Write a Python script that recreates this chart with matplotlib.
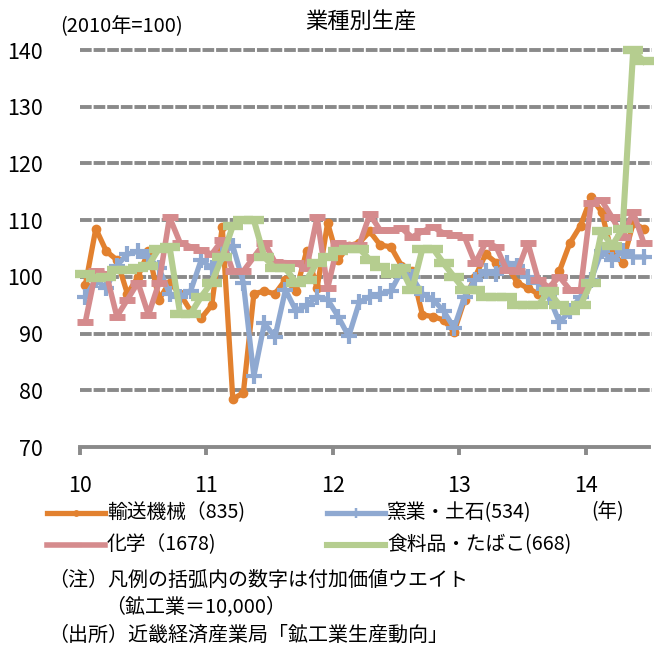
import numpy as np
import matplotlib.pyplot as plt
from matplotlib.lines import Line2D

plt.rcParams['font.family'] = ['Noto Sans CJK JP', 'DejaVu Sans']

# monthly index, 2010-01 .. 2014-06 (2010 = 100)
TRANSPORT = [98.5, 108.5, 104.5, 103, 97, 100, 104.5, 96, 99, 97, 94, 92.7,
             95, 108.8, 78.5, 79.5, 97, 97.5, 97, 99.5, 97.5, 104.5, 98, 109.5,
             103, 105.5, 106, 108, 105.6, 105.3, 102, 101, 93.3, 93, 92.4, 90.3,
             96, 100, 104, 102.5, 102, 99, 98, 97, 97, 101, 106, 109,
             114, 111.5, 104, 102.5, 109.5, 108.5]
CERAMICS = [96.5, 99.5, 98, 102, 104, 104.5, 103.5, 101.5, 97, 96.5, 97.5, 103,
            101.5, 104, 105.5, 99, 82.5, 91.8, 89.4, 97.7, 94, 95, 96.5, 96,
            93, 89.5, 95.5, 96.5, 97, 97.5, 101, 100, 97, 96, 94, 91,
            96.5, 99.5, 101, 100.5, 102.5, 102, 100, 99, 96.5, 92, 94, 96.5,
            99.5, 104.5, 103, 104.5, 103.5, 103.5]
CHEMICAL = [92, 101, 100.5, 93, 96, 99, 93.3, 99, 110.5, 106, 105.3, 104.7,
            104, 106.5, 101, 101, 103.5, 106, 102.6, 102.5, 102.4, 101.5, 110.5, 98,
            106, 105.6, 105.6, 111, 108.2, 108.2, 108.6, 107, 108, 108.8, 107.7, 107.4,
            107, 102.4, 106, 105.3, 101.2, 101, 106, 99.4, 98.2, 100, 97.7, 97.7,
            113, 113.5, 110.5, 107, 111.4, 106]
FOOD = [100.5, 99.8, 100, 101.2, 101.2, 101.5, 102, 105, 105.3, 93.5, 93.5, 96.5,
        99, 103.5, 109, 110, 110, 103.5, 101.5, 101.5, 99, 99.5, 102.5, 103.5,
        104.5, 105, 105, 103, 101.8, 100.5, 101.5, 97.6, 105, 105, 102.4, 100,
        97.6, 97.6, 96.5, 96.5, 96.5, 95, 95, 95, 97.5, 95, 94, 95,
        99, 108, 105.5, 108.5, 140, 138]

LABELS = ['輸送機械（835)', '窯業・土石(534)', '化学（1678)', '食料品・たばこ(668)']
YEAR_LABELS = ['10', '11', '12', '13', '14']
Y_TICKS = [70, 80, 90, 100, 110, 120, 130, 140]

ORANGE = '#E2812F'
BLUE = '#8FA9D1'
PINK = '#D58B8D'
GREEN = '#B5CD8F'
GRID = '#8A8A8A'

# (values, color, marker, markersize, markeredgewidth, linewidth)
styles = [
    (TRANSPORT, ORANGE, 'o', 6, 1, 3.8),
    (CERAMICS, BLUE, '+', 11, 3, 3.8),
    (CHEMICAL, PINK, '_', 12, 5, 4.0),
    (FOOD, GREEN, '_', 15, 6, 4.4),
]

fig = plt.figure(figsize=(6.61, 6.46), dpi=100)
ax = fig.add_axes([80 / 661, 1 - 447 / 646, 569 / 661, 397 / 646])

x = np.arange(len(TRANSPORT))
for k, (vals, col, mk, ms, mew, lw) in enumerate(styles):
    ax.plot(x, vals, color=col, lw=lw, marker=mk, ms=ms, mew=mew,
            mfc=col, mec=col, solid_joinstyle='round', zorder=3 + k,
            clip_on=False)

ax.set_xlim(-0.5, len(TRANSPORT) - 0.5)
ax.set_ylim(70, 140)
ax.set_yticks(Y_TICKS)
ax.set_yticklabels([str(v) for v in Y_TICKS], fontsize=15.5)
ax.set_xticks(np.arange(len(YEAR_LABELS)) * 12 - 0.5)
ax.set_xticklabels(YEAR_LABELS, fontsize=15.5)

for v in Y_TICKS[1:]:
    ax.plot([-0.5, len(TRANSPORT) - 0.2], [v, v], color=GRID, lw=2.8,
            ls=(0, (3, 0.5)), zorder=1, clip_on=False)

for side in ['left', 'right', 'top']:
    ax.spines[side].set_visible(False)
ax.spines['bottom'].set_color(GRID)
ax.spines['bottom'].set_linewidth(2.8)
ax.tick_params(axis='y', length=0, pad=27)
ax.tick_params(axis='x', length=6, width=2.8, color=GRID, pad=14)

# titles
fig.text(361 / 661, 1 - 22 / 646, '業種別生産', ha='center', va='center', fontsize=16)
fig.text(60 / 661, 1 - 27 / 646, '(2010年=100)', ha='left', va='center', fontsize=14.5)
fig.text(608 / 661, 1 - 512 / 646, '(年)', ha='center', va='center', fontsize=14)

# legend drawn by hand in two columns
legend_pos = [(47, 513), (327, 513), (47, 545), (327, 545)]
for (vals, col, mk, ms, mew, lw), lab, (lx, ly) in zip(styles, LABELS, legend_pos):
    yy = 1 - ly / 646
    fig.add_artist(Line2D([lx / 661, (lx + 58) / 661], [yy, yy], color=col, lw=lw,
                          transform=fig.transFigure))
    fig.add_artist(Line2D([(lx + 29) / 661], [yy], color=col, marker=mk,
                          ms=ms * 0.7, mew=mew * 0.6, mfc=col, mec=col,
                          transform=fig.transFigure))
    fig.text((lx + 60) / 661, yy, lab, ha='left', va='center', fontsize=14.2)

# notes
fig.text(48 / 661, 1 - 580 / 646, '（注）凡例の括弧内の数字は付加価値ウエイト',
         ha='left', va='center', fontsize=14.4)
fig.text(105 / 661, 1 - 607 / 646, '（鉱工業＝10,000）', ha='left', va='center', fontsize=14.4)
fig.text(48 / 661, 1 - 635 / 646, '（出所）近畿経済産業局「鉱工業生産動向」',
         ha='left', va='center', fontsize=14.4)

fig.savefig('out.png', dpi=100)
